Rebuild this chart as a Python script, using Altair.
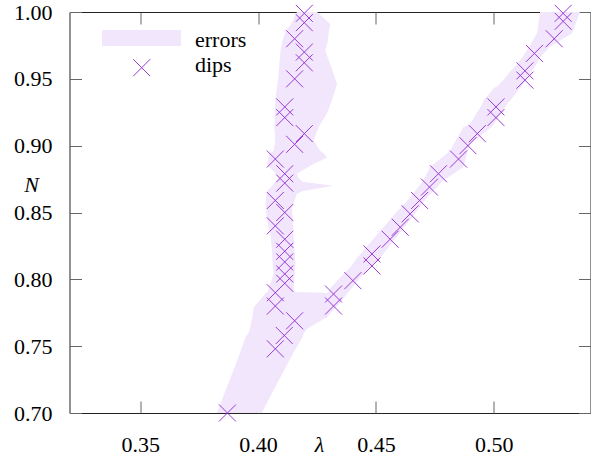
import altair as alt
import pandas as pd

# ---------------- data ----------------
# dips: left branch
dipL_lam = [0.3870, 0.4073, 0.4111, 0.4155, 0.4073, 0.4073, 0.4113, 0.4113, 0.4113,
            0.4113, 0.4113, 0.4073, 0.4113, 0.4073, 0.4113, 0.4113, 0.4073, 0.4155,
            0.4196, 0.4113, 0.4113, 0.4155, 0.4196, 0.4196, 0.4155, 0.4196, 0.4196]
dipL_N = [0.700, 0.748, 0.758, 0.769, 0.780, 0.790, 0.797, 0.804, 0.813,
          0.821, 0.830, 0.840, 0.850, 0.859, 0.872, 0.879, 0.890, 0.901,
          0.909, 0.921, 0.929, 0.950, 0.962, 0.970, 0.980, 0.992, 0.999]
# dips: right branch
dipR_lam = [0.4320, 0.4320, 0.4402, 0.4483, 0.4483, 0.4560, 0.4603, 0.4645, 0.4685,
            0.4727, 0.4765, 0.4850, 0.4890, 0.4930, 0.5009, 0.5009, 0.5132, 0.5132,
            0.5172, 0.5256, 0.5294, 0.5294]
dipR_N = [0.780, 0.789, 0.799, 0.810, 0.819, 0.830, 0.839, 0.849, 0.859,
          0.869, 0.879, 0.890, 0.900, 0.909, 0.921, 0.929, 0.949, 0.956,
          0.969, 0.980, 0.993, 0.999]

# error band: left branch (N, low lambda, high lambda)
bandL_N = [0.700, 0.741, 0.7565, 0.760, 0.763, 0.771, 0.779, 0.785, 0.7895, 0.7905,
           0.804, 0.811, 0.821, 0.831, 0.834, 0.844, 0.854, 0.8565, 0.864, 0.866,
           0.870, 0.873, 0.876, 0.879, 0.886, 0.891, 0.894, 0.896, 0.904, 0.914,
           0.924, 0.934, 0.946, 0.954, 0.971, 0.9776, 0.985, 0.991, 1.000]
bandL_lo = [0.3825, 0.3915, 0.3946, 0.3960, 0.3965, 0.3975, 0.3981, 0.4010, 0.4030, 0.4040,
            0.4066, 0.4062, 0.4059, 0.4054, 0.4052, 0.4038, 0.4033, 0.4031, 0.4036, 0.4038,
            0.4060, 0.4075, 0.4087, 0.4075, 0.4038, 0.4045, 0.4045, 0.4066, 0.4073, 0.4069,
            0.4071, 0.4073, 0.4082, 0.4087, 0.4095, 0.4102, 0.4116, 0.4140, 0.4165]
bandL_hi = [0.4015, 0.4137, 0.4187, 0.4195, 0.4208, 0.4285, 0.4330, 0.4360, 0.4365, 0.4151,
            0.4155, 0.4158, 0.4155, 0.4151, 0.4150, 0.4147, 0.4144, 0.4150, 0.4165, 0.4190,
            0.4320, 0.4190, 0.4170, 0.4165, 0.4230, 0.4292, 0.4280, 0.4264, 0.4235, 0.4257,
            0.4292, 0.4313, 0.4335, 0.4320, 0.4285, 0.4295, 0.4300, 0.4306, 0.4250]
# error band: right branch
bandR_N = [0.771, 0.780, 0.786, 0.794, 0.809, 0.816, 0.851, 0.861, 0.874, 0.884,
           0.896, 0.901, 0.914, 0.916, 0.931, 0.934, 0.943, 0.945, 0.961, 0.966,
           0.974, 0.984, 0.986, 1.000]
bandR_lo = [0.4280, 0.4275, 0.4285, 0.4309, 0.4391, 0.4420, 0.4590, 0.4645, 0.4700, 0.4730,
            0.4814, 0.4830, 0.4871, 0.4899, 0.4950, 0.4956, 0.5000, 0.5019, 0.5097, 0.5120,
            0.5150, 0.5182, 0.5185, 0.5196]
bandR_hi = [0.4290, 0.4330, 0.4363, 0.4400, 0.4470, 0.4518, 0.4673, 0.4715, 0.4786, 0.4871,
            0.4890, 0.4899, 0.4990, 0.5000, 0.5055, 0.5070, 0.5111, 0.5120, 0.5180, 0.5196,
            0.5238, 0.5330, 0.5337, 0.5365]

x_ticks = [0.35, 0.40, 0.45, 0.50]
y_ticks = [0.70, 0.75, 0.80, 0.85, 0.90, 0.95, 1.00]
legend_labels = ["errors", "dips"]

# ---------------- frames ----------------
dips = pd.DataFrame({"lam": dipL_lam + dipR_lam, "N": dipL_N + dipR_N})
bandL = pd.DataFrame({"N": bandL_N, "lo": bandL_lo, "hi": bandL_hi})
bandR = pd.DataFrame({"N": bandR_N, "lo": bandR_lo, "hi": bandR_hi})

W, H = 521, 401
FONT = "'Liberation Serif', 'Times New Roman', Times, serif"
FS = 22
FILL = "#f1e6fb"
PURPLE = "#9a3ad6"
TICK = "#666666"
XPATH = "M-1,-1L1,1M1,-1L-1,1"

xs = alt.Scale(domain=[0.32, 0.541], nice=False, zero=False)
ys = alt.Scale(domain=[0.70, 1.00], nice=False, zero=False)

ax_bottom = alt.Axis(orient="bottom", values=x_ticks, format=".2f", offset=-12,
                     domain=False, grid=False, tickSize=12, tickColor=TICK, tickWidth=1,
                     labelFont=FONT, labelFontSize=FS, labelColor="black",
                     labelPadding=21, labelFlush=False,
                     title="λ", titleFont=FONT, titleFontSize=FS, titleFontStyle="italic",
                     titleFontWeight="normal", titleColor="black",
                     titleX=249.5, titleY=50, titleAlign="center", titleBaseline="alphabetic")
ax_left = alt.Axis(orient="left", values=y_ticks, format=".2f", offset=-12,
                   domain=False, grid=False, tickSize=12, tickColor=TICK, tickWidth=1,
                   labelFont=FONT, labelFontSize=FS, labelColor="black",
                   labelPadding=17.5, labelFlush=False, labelBaseline="middle",
                   title="N", titleFont=FONT, titleFontSize=FS, titleFontStyle="italic",
                   titleFontWeight="normal", titleColor="black", titleAngle=0,
                   titleX=-50.5, titleY=172, titleAlign="center", titleBaseline="middle")
ax_top = alt.Axis(orient="top", values=x_ticks, offset=-12, domain=False, grid=False,
                  tickSize=12, tickColor=TICK, tickWidth=1, labels=False, title=None)
ax_right = alt.Axis(orient="right", values=y_ticks, offset=-12, domain=False, grid=False,
                    tickSize=12, tickColor=TICK, tickWidth=1, labels=False, title=None)

band_left = alt.Chart(bandL).mark_area(orient="horizontal", color=FILL, opacity=1,
                                       clip=True).encode(
    y=alt.Y("N:Q", scale=ys, axis=ax_left),
    x=alt.X("lo:Q", scale=xs, axis=ax_bottom),
    x2="hi:Q",
)
band_right = alt.Chart(bandR).mark_area(orient="horizontal", color=FILL, opacity=1,
                                        clip=True).encode(
    y=alt.Y("N:Q", scale=ys, axis=ax_right),
    x=alt.X("lo:Q", scale=xs, axis=ax_top),
    x2="hi:Q",
)
points = alt.Chart(dips).mark_point(shape=XPATH, size=289, filled=False,
                                    stroke=PURPLE, strokeWidth=1, opacity=1).encode(
    x=alt.X("lam:Q", scale=xs, axis=None),
    y=alt.Y("N:Q", scale=ys, axis=None),
)

leg_rect = alt.Chart(pd.DataFrame({"t": legend_labels[:1]})).mark_rect(color=FILL, opacity=1).encode(
    x=alt.value(32.5), x2=alt.value(111.5), y=alt.value(18), y2=alt.value(34))
leg_cross = alt.Chart(pd.DataFrame({"t": legend_labels[1:]})).mark_point(
    shape=XPATH, size=289, filled=False, stroke=PURPLE, strokeWidth=1, opacity=1).encode(
    x=alt.value(72.2), y=alt.value(55.7))
leg_text1 = alt.Chart(pd.DataFrame({"t": legend_labels[:1]})).mark_text(
    align="left", baseline="alphabetic", font=FONT, fontSize=FS, color="black").encode(
    x=alt.value(125.5), y=alt.value(34.5), text="t:N")
leg_text2 = alt.Chart(pd.DataFrame({"t": legend_labels[1:]})).mark_text(
    align="left", baseline="alphabetic", font=FONT, fontSize=FS, color="black").encode(
    x=alt.value(125.5), y=alt.value(60.3), text="t:N")

chart = alt.layer(band_left, band_right, points, leg_rect, leg_cross, leg_text1, leg_text2
).resolve_axis(x="independent", y="independent").properties(
    width=W, height=H,
    autosize=alt.AutoSizeParams(type="none"),
    padding={"left": 69.5, "top": 12, "right": 0, "bottom": 48},
).configure_view(stroke="#222222", strokeWidth=1)

chart.save("out.html", embed_options={"renderer": "svg", "actions": False})
